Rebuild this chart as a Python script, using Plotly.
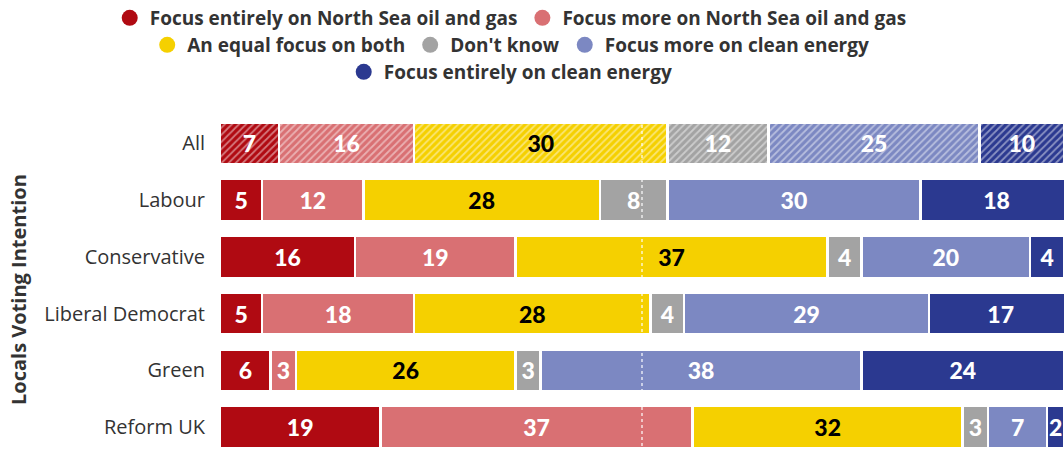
import plotly.graph_objects as go

categories = ["All", "Labour", "Conservative", "Liberal Democrat", "Green", "Reform UK"]
series_names = [
    "Focus entirely on North Sea oil and gas",
    "Focus more on North Sea oil and gas",
    "An equal focus on both",
    "Don't know",
    "Focus more on clean energy",
    "Focus entirely on clean energy",
]
entirely_oil = [7, 5, 16, 5, 6, 19]
more_oil = [16, 12, 19, 18, 3, 37]
equal = [30, 28, 37, 28, 26, 32]
dont_know = [12, 8, 4, 4, 3, 3]
more_clean = [25, 30, 20, 29, 38, 7]
entirely_clean = [10, 18, 4, 17, 24, 2]

values = [entirely_oil, more_oil, equal, dont_know, more_clean, entirely_clean]
colors = ["#B00A12", "#D97073", "#F5D000", "#A3A3A3", "#7C88C2", "#2B3990"]
text_colors = ["white", "white", "black", "white", "white", "white"]
legend_ids = ["legend", "legend", "legend2", "legend2", "legend2", "legend3"]

fig = go.Figure()
for name, vals, col, tcol in zip(series_names, values, colors, text_colors):
    fig.add_trace(go.Bar(
        y=categories, x=vals, orientation="h", name=name,
        marker=dict(
            color=col,
            line=dict(color="white", width=2.5),
            pattern=dict(shape=["/"] + [""] * (len(categories) - 1),
                         fgcolor="white", fgopacity=0.45, size=5, solidity=0.35),
        ),
        text=[str(v) for v in vals], textposition="inside",
        insidetextanchor="middle", textangle=0,
        textfont=dict(family="Lato", size=23, color=tcol, weight=900),
        showlegend=False, hoverinfo="skip",
    ))

for name, col, lid in zip(series_names, colors, legend_ids):
    fig.add_trace(go.Scatter(
        x=[None], y=[None], mode="markers", name=name,
        marker=dict(color=col, size=16, symbol="circle"),
        legend=lid, showlegend=True,
    ))

leg_common = dict(orientation="h", xref="container", yref="container",
                  x=0.48, xanchor="center", yanchor="middle", traceorder="normal",
                  font=dict(family="Open Sans", size=19, color="#333333", weight=700),
                  bgcolor="rgba(0,0,0,0)", itemwidth=30, tracegroupgap=0)

fig.update_layout(
    width=1064, height=452,
    margin=dict(l=220, r=0, t=115, b=0),
    barmode="stack", bargap=0.26,
    plot_bgcolor="white", paper_bgcolor="white",
    uniformtext=dict(minsize=23, mode="show"),
    legend=dict(y=1 - 18 / 452, **leg_common),
    legend2=dict(y=1 - 45 / 452, **leg_common),
    legend3=dict(y=1 - 72 / 452, **leg_common),
    xaxis=dict(range=[0, 100], visible=False, fixedrange=True),
    yaxis=dict(
        type="category", categoryorder="array", categoryarray=categories,
        range=[5.44, -0.5], showgrid=False, zeroline=False, ticks="",
        ticklabelstandoff=14,
        tickfont=dict(family="Open Sans", size=20, color="#333333"),
    ),
    shapes=[dict(type="line", xref="x", yref="paper", x0=50, x1=50, y0=0, y1=1,
                 line=dict(color="white", width=1.2, dash="dot"), layer="above")],
    annotations=[dict(text="Locals Voting Intention", xref="paper", yref="paper",
                      x=(18 - 220) / 844, y=(452 - 290) / 337, textangle=-90,
                      showarrow=False, xanchor="center", yanchor="middle",
                      font=dict(family="Open Sans", size=20, color="#333333", weight=700))],
)

fig.write_html("out.html")
